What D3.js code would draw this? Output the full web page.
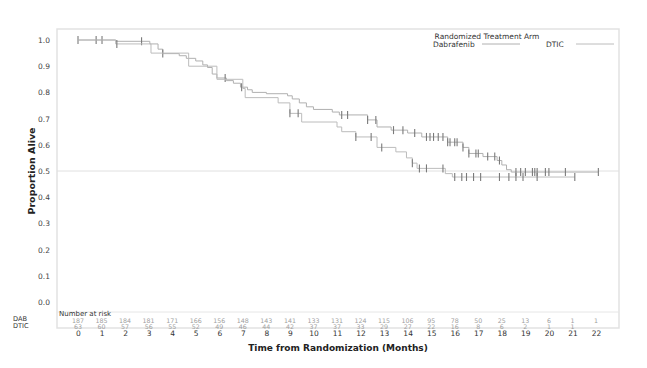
<!DOCTYPE html>
<html>
<head>
<meta charset="utf-8">
<script src="https://cdn.jsdelivr.net/npm/d3@7"></script>
<style>
  body { margin: 0; background: #fff; }
  svg { display: block; }
  text { font-family: "DejaVu Sans", sans-serif; }
</style>
</head>
<body>
<svg id="chart" width="647" height="368"></svg>
<script>
// Kaplan-Meier steps: [month, proportion alive after the step]
const dabSteps = [
    [0, 1.0], [1.6, 0.995], [3.05, 0.985], [3.4, 0.965], [3.6, 0.948], [4.3, 0.94],
    [4.6, 0.93], [5.0, 0.92], [5.3, 0.905], [5.5, 0.895], [5.7, 0.87], [5.9, 0.855],
    [6.3, 0.845], [6.6, 0.835], [6.9, 0.82], [7.2, 0.81], [7.4, 0.80], [8.0, 0.795],
    [8.9, 0.787], [9.1, 0.775], [9.4, 0.76], [9.7, 0.745], [10.0, 0.735], [10.8, 0.725],
    [11.1, 0.714], [12.3, 0.695], [12.7, 0.668], [13.3, 0.656], [14.0, 0.645], [14.6, 0.63],
    [15.7, 0.61], [16.35, 0.59], [16.6, 0.567], [17.2, 0.555], [17.8, 0.54], [18.0, 0.523],
    [18.2, 0.505], [18.4, 0.496]
];
const dabEnd = 22.1;
const dtcSteps = [
    [0, 1.0], [1.6, 0.985], [3.1, 0.95], [4.7, 0.9], [5.9, 0.85], [7.0, 0.815], [7.1, 0.78],
    [8.5, 0.76], [9.0, 0.72], [9.5, 0.687], [11.0, 0.668], [11.2, 0.65], [11.8, 0.63],
    [12.7, 0.59], [13.5, 0.573], [13.95, 0.55], [14.2, 0.53], [14.4, 0.51], [15.6, 0.49],
    [15.9, 0.477]
];
const dtcEnd = 21.1;

// censor marks (months)
const dabCensor = [0, 0.77, 1.02, 2.7, 3.6, 6.25, 6.95, 11.2, 11.45, 12.3, 12.65, 13.4, 13.8,
    14.3, 14.8, 14.95, 15.1, 15.3, 15.5, 15.7, 15.8, 16.0, 16.1, 16.35, 16.6, 16.9, 17.0,
    17.4, 17.7, 17.9, 18.6, 18.8, 19.0, 19.3, 19.4, 19.5, 19.85, 20.0, 20.7, 22.1];
const dtcCensor = [1.65, 9.0, 9.35, 11.8, 12.45, 12.9, 14.2, 14.5, 14.8, 15.5, 16.0, 16.3,
    16.5, 16.8, 17.1, 17.9, 18.3, 18.6, 18.9, 19.5, 21.1];

const months = d3.range(0, 23);
const yTicks = [0, 0.1, 0.2, 0.3, 0.4, 0.5, 0.6, 0.7, 0.8, 0.9, 1.0];
const dabRisk = [187, 185, 184, 181, 171, 166, 156, 148, 143, 141, 133, 131, 124, 115, 106, 95, 78, 50, 25, 13, 6, 1, 1];
const dtcRisk = [63, 60, 57, 56, 55, 52, 49, 46, 44, 42, 37, 37, 33, 29, 27, 22, 16, 8, 6, 2, 1, 1, null];

const svg = d3.select('#chart');

const x = d3.scaleLinear().domain([0, 22]).range([78, 596]);
const y = d3.scaleLinear().domain([0, 1]).range([302, 40]);

const frame = { left: 57, right: 619, top: 29, bottom: 328, riskTop: 312 };

// frame around plot + risk table
svg.append('rect')
    .attr('x', frame.left).attr('y', frame.top)
    .attr('width', frame.right - frame.left).attr('height', frame.bottom - frame.top)
    .attr('fill', 'none').attr('stroke', '#e2e2e2').attr('stroke-width', 1.5);
svg.append('line')
    .attr('x1', frame.left).attr('x2', frame.right)
    .attr('y1', frame.riskTop).attr('y2', frame.riskTop)
    .attr('stroke', '#e6e6e6');

// reference line at 0.5
svg.append('line')
    .attr('x1', frame.left).attr('x2', frame.right)
    .attr('y1', y(0.5)).attr('y2', y(0.5))
    .attr('stroke', '#e0e0e0');

// y axis
const yAxis = svg.append('g')
    .attr('transform', `translate(${frame.left - 4},0)`)
    .call(d3.axisLeft(y).tickValues(yTicks).tickSize(0).tickFormat(d3.format('.1f')));
yAxis.select('.domain').remove();
yAxis.selectAll('text')
    .attr('font-family', '"DejaVu Sans", sans-serif')
    .attr('font-size', 7.5).attr('fill', '#444');

svg.append('text')
    .attr('transform', `translate(35,${y(0.5)}) rotate(-90)`)
    .attr('text-anchor', 'middle')
    .attr('font-family', '"Open Sans", sans-serif')
    .attr('font-weight', 'bold').attr('font-size', 9.5).attr('fill', '#222')
    .text('Proportion Alive');

// x axis
const xAxis = svg.append('g')
    .attr('transform', `translate(0,${frame.bottom})`)
    .call(d3.axisBottom(x).tickValues(months).tickSize(0).tickPadding(3).tickFormat(d3.format('d')));
xAxis.select('.domain').remove();
xAxis.selectAll('text')
    .attr('font-family', '"DejaVu Sans", sans-serif')
    .attr('font-size', 7.5).attr('fill', '#333');

svg.append('text')
    .attr('x', 338).attr('y', 351)
    .attr('text-anchor', 'middle')
    .attr('font-weight', 'bold').attr('font-size', 9).attr('fill', '#222')
    .text('Time from Randomization (Months)');

// survival curves
const stepLine = d3.line()
    .x(d => x(d[0]))
    .y(d => y(d[1]))
    .curve(d3.curveStepAfter);

function withEnd(steps, end) {
    return steps.concat([[end, steps[steps.length - 1][1]]]);
}

function survAt(steps, t) {
    let s = steps[0][1];
    for (const st of steps) {
        if (st[0] <= t) s = st[1];
    }
    return s;
}

const arms = [
    { name: 'Dabrafenib', steps: dabSteps, end: dabEnd, censor: dabCensor, color: '#b0b0b0' },
    { name: 'DTIC', steps: dtcSteps, end: dtcEnd, censor: dtcCensor, color: '#bcbcbc' }
];

for (const arm of arms) {
    svg.append('path')
        .datum(withEnd(arm.steps, arm.end))
        .attr('fill', 'none')
        .attr('stroke', arm.color)
        .attr('stroke-width', 1)
        .attr('d', stepLine);

    svg.append('g').selectAll('line')
        .data(arm.censor)
        .join('line')
        .attr('x1', d => x(d)).attr('x2', d => x(d))
        .attr('y1', d => y(survAt(arm.steps, d)) - 4)
        .attr('y2', d => y(survAt(arm.steps, d)) + 4)
        .attr('stroke', '#7a7a7a')
        .attr('stroke-width', 1.1);
}

// legend
svg.append('text')
    .attr('x', 487).attr('y', 39)
    .attr('text-anchor', 'middle')
    .attr('font-size', 7.5).attr('fill', '#333')
    .text('Randomized Treatment Arm');

const legendItems = [
    { label: 'Dabrafenib', tx: 433, x1: 482, x2: 520, color: '#b0b0b0' },
    { label: 'DTIC', tx: 546, x1: 576, x2: 614, color: '#bcbcbc' }
];
for (const item of legendItems) {
    svg.append('text')
        .attr('x', item.tx).attr('y', 46.5)
        .attr('font-size', 7.5).attr('fill', '#333')
        .text(item.label);
    svg.append('line')
        .attr('x1', item.x1).attr('x2', item.x2)
        .attr('y1', 44).attr('y2', 44)
        .attr('stroke', item.color);
}

// number at risk table
svg.append('text')
    .attr('x', 59).attr('y', 316.3)
    .attr('font-size', 7).attr('fill', '#333')
    .text('Number at risk');

svg.append('text').attr('x', 13).attr('y', 321.3)
    .attr('font-size', 6.6).attr('fill', '#333').text('DAB');
svg.append('text').attr('x', 13).attr('y', 328.3)
    .attr('font-size', 6.6).attr('fill', '#333').text('DTIC');

svg.append('g').selectAll('text')
    .data(months)
    .join('text')
    .attr('x', d => x(d)).attr('y', 322.6)
    .attr('text-anchor', 'middle')
    .attr('font-size', 6.3).attr('fill', '#a0a0a0')
    .text(d => dabRisk[d]);

svg.append('g').selectAll('text')
    .data(months.filter(d => dtcRisk[d] !== null))
    .join('text')
    .attr('x', d => x(d)).attr('y', 328.6)
    .attr('text-anchor', 'middle')
    .attr('font-size', 6.3).attr('fill', '#a0a0a0')
    .text(d => dtcRisk[d]);
</script>
</body>
</html>
